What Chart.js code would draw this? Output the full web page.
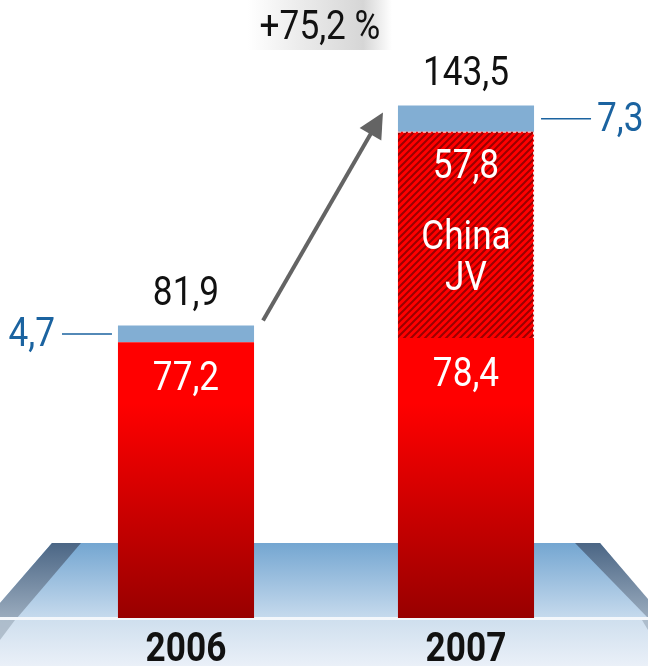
<!DOCTYPE html>
<html>
<head>
<meta charset="utf-8">
<script src="https://cdn.jsdelivr.net/npm/chart.js@4.4.1/dist/chart.umd.min.js"></script>
<style>
  html, body { margin: 0; padding: 0; background: #fff; }
  #wrap { width: 648px; height: 666px; position: relative; }
</style>
</head>
<body>
<div id="wrap"><canvas id="chart"></canvas></div>
<script>
// Data
const categories = ['2006', '2007'];
const baseValues = [77.2, 78.4];      // solid red part
const chinaJvValues = [0, 57.8];      // hatched part (China JV)
const otherValues = [4.7, 7.3];       // light blue top part
const totals = [81.9, 143.5];
const growthLabel = '+75,2 %';
const jvLabel = ['China', 'JV'];

const FONT = 'Roboto, "DejaVu Sans Condensed", sans-serif';
const SQUEEZE = 0.88;   // narrow the glyphs, the original uses a condensed face
const BLUE_TEXT = '#1b63a0';

function fmt(v) {
    return v.toFixed(1).replace('.', ',');
}

// condensed text: scale horizontally around the anchor
function text(ctx, str, x, y, align) {
    ctx.save();
    ctx.translate(x, y);
    ctx.scale(SQUEEZE, 1);
    ctx.textAlign = align || 'center';
    ctx.fillText(str, 0, 0);
    ctx.restore();
}

// Diagonal hatch for the China JV segment
function makeHatch() {
    const size = 7;
    const c = document.createElement('canvas');
    c.width = size; c.height = size;
    const g = c.getContext('2d');
    g.fillStyle = '#ff0000';
    g.fillRect(0, 0, size, size);
    g.strokeStyle = '#9a0000';
    g.lineWidth = 2;
    g.beginPath();
    g.moveTo(-1, size + 1); g.lineTo(size + 1, -1);
    g.moveTo(-1, 1); g.lineTo(1, -1);
    g.moveTo(size - 1, size + 1); g.lineTo(size + 1, size - 1);
    g.stroke();
    return g.createPattern(c, 'repeat');
}
const hatch = makeHatch();

function redGradient(context) {
    const chart = context.chart;
    const area = chart.chartArea;
    if (!area) return '#ff0000';
    const y = chart.scales.y;
    const grad = chart.ctx.createLinearGradient(0, y.getPixelForValue(60), 0, area.bottom);
    grad.addColorStop(0, '#ff0000');
    grad.addColorStop(1, '#980000');
    return grad;
}

// Floor / background decoration
const floorPlugin = {
    id: 'floor',
    beforeDatasetsDraw(chart) {
        const ctx = chart.ctx;
        const W = chart.width, H = chart.height;
        const bottom = chart.chartArea.bottom;
        const top = bottom - 75;
        ctx.save();

        // lower band
        let g = ctx.createLinearGradient(0, bottom + 2, 0, H);
        g.addColorStop(0, '#cfdfee');
        g.addColorStop(1, '#eaf0f8');
        ctx.fillStyle = g;
        ctx.fillRect(0, bottom + 2, W, H - bottom);

        // floor plate
        g = ctx.createLinearGradient(0, top, 0, bottom);
        g.addColorStop(0, '#74a6d1');
        g.addColorStop(1, '#c6daed');
        ctx.fillStyle = g;
        ctx.beginPath();
        ctx.moveTo(52, top); ctx.lineTo(W - 48, top);
        ctx.lineTo(W, top + 58); ctx.lineTo(W, bottom);
        ctx.lineTo(0, bottom); ctx.lineTo(0, top + 60);
        ctx.closePath();
        ctx.fill();

        // slanted side bands
        g = ctx.createLinearGradient(0, top, 0, bottom + 25);
        g.addColorStop(0, '#4b6685');
        g.addColorStop(1, '#b4c2d0');
        ctx.fillStyle = g;
        ctx.beginPath();
        ctx.moveTo(52, top); ctx.lineTo(81, top);
        ctx.lineTo(17, bottom); ctx.lineTo(0, bottom);
        ctx.lineTo(0, top + 60);
        ctx.closePath();
        ctx.fill();
        ctx.beginPath();
        ctx.moveTo(W - 48, top); ctx.lineTo(W - 73, top);
        ctx.lineTo(W, bottom); ctx.lineTo(W, top + 56);
        ctx.closePath();
        ctx.fill();

        // small continuation below the rim
        ctx.fillStyle = 'rgba(150,165,180,0.6)';
        ctx.beginPath();
        ctx.moveTo(0, bottom + 2); ctx.lineTo(15, bottom + 2); ctx.lineTo(0, bottom + 22);
        ctx.closePath();
        ctx.fill();
        ctx.beginPath();
        ctx.moveTo(W, bottom + 2); ctx.lineTo(W - 6, bottom + 2); ctx.lineTo(W, bottom + 12);
        ctx.closePath();
        ctx.fill();

        // white rim line
        ctx.fillStyle = '#f4f7fb';
        ctx.fillRect(0, bottom - 1, W, 3);
        ctx.restore();
    }
};

// Labels, arrow, growth box
const labelPlugin = {
    id: 'labels',
    afterDatasetsDraw(chart) {
        const ctx = chart.ctx;
        const x = chart.scales.x;
        const baseMeta = chart.getDatasetMeta(0);
        const jvMeta = chart.getDatasetMeta(1);
        const topMeta = chart.getDatasetMeta(2);
        ctx.save();
        ctx.textBaseline = 'middle';

        // dashed white outline of the JV segment
        const jv = jvMeta.data[1];
        ctx.strokeStyle = 'rgba(255,255,255,0.9)';
        ctx.lineWidth = 1;
        ctx.setLineDash([3, 2]);
        ctx.beginPath();
        ctx.moveTo(jv.x - jv.width / 2, jv.y + 0.5);
        ctx.lineTo(jv.x + jv.width / 2 - 0.5, jv.y + 0.5);
        ctx.lineTo(jv.x + jv.width / 2 - 0.5, jv.base);
        ctx.stroke();
        ctx.setLineDash([]);

        // totals above bars
        ctx.fillStyle = '#111';
        ctx.font = '40px ' + FONT;
        topMeta.data.forEach((bar, i) => {
            text(ctx, fmt(totals[i]), bar.x, bar.y - 31);
        });

        // values inside solid red parts
        ctx.fillStyle = '#fff';
        baseMeta.data.forEach((bar, i) => {
            text(ctx, fmt(baseValues[i]), bar.x, bar.y + 38);
        });
        // JV value and name
        text(ctx, fmt(chinaJvValues[1]), jv.x, jv.y + 36);
        text(ctx, jvLabel[0], jv.x, jv.y + 107);
        text(ctx, jvLabel[1], jv.x, jv.y + 148);

        // small blue parts with leader lines
        ctx.fillStyle = BLUE_TEXT;
        ctx.strokeStyle = BLUE_TEXT;
        ctx.lineWidth = 1.5;
        const b0 = topMeta.data[0], b1 = topMeta.data[1];
        const y0 = (b0.y + b0.base) / 2;
        const y1 = (b1.y + b1.base) / 2;
        ctx.beginPath();
        ctx.moveTo(b0.x - b0.width / 2 - 6, y0); ctx.lineTo(b0.x - b0.width / 2 - 56, y0);
        ctx.moveTo(b1.x + b1.width / 2 + 7, y1); ctx.lineTo(b1.x + b1.width / 2 + 57, y1);
        ctx.stroke();
        text(ctx, fmt(otherValues[0]), b0.x - b0.width / 2 - 63, y0 + 2, 'right');
        text(ctx, fmt(otherValues[1]), b1.x + b1.width / 2 + 63, y1 + 2, 'left');

        // growth arrow
        const tx = b0.x + b0.width / 2 + 9, ty = b0.y - 5;
        const hx = b1.x - b1.width / 2 - 15, hy = b1.y + 7;
        const dx = hx - tx, dy = hy - ty;
        const len = Math.hypot(dx, dy);
        const ux = dx / len, uy = dy / len;
        const headLen = 25, headHalf = 12.5;
        const bx = hx - ux * headLen, by = hy - uy * headLen;
        ctx.strokeStyle = '#646464';
        ctx.fillStyle = '#646464';
        ctx.lineWidth = 4;
        ctx.beginPath();
        ctx.moveTo(tx, ty); ctx.lineTo(bx + ux * 4, by + uy * 4);
        ctx.stroke();
        ctx.beginPath();
        ctx.moveTo(hx, hy);
        ctx.lineTo(bx - uy * headHalf, by + ux * headHalf);
        ctx.lineTo(bx + uy * headHalf, by - ux * headHalf);
        ctx.closePath();
        ctx.fill();

        // growth label box
        const cx = (b0.x + b1.x) / 2 - 6;
        const g = ctx.createLinearGradient(cx - 72, 0, cx + 72, 0);
        g.addColorStop(0, 'rgba(255,255,255,1)');
        g.addColorStop(0.35, '#ececec');
        g.addColorStop(0.8, '#d6d6d6');
        g.addColorStop(1, 'rgba(255,255,255,1)');
        ctx.fillStyle = g;
        ctx.fillRect(cx - 72, 0, 144, 50);
        ctx.fillStyle = '#111';
        ctx.font = '40px ' + FONT;
        text(ctx, growthLabel, cx, 29);

        // category labels
        ctx.font = 'bold 40px ' + FONT;
        categories.forEach((c, i) => {
            text(ctx, c, x.getPixelForValue(i), chart.chartArea.bottom + 33);
        });
        ctx.restore();
    }
};

new Chart(document.getElementById('chart'), {
    type: 'bar',
    data: {
        labels: categories,
        datasets: [
            { label: 'Base', data: baseValues, backgroundColor: redGradient },
            { label: 'China JV', data: chinaJvValues, backgroundColor: hatch },
            { label: 'Other', data: otherValues, backgroundColor: '#82aed3' }
        ]
    },
    options: {
        responsive: true,
        maintainAspectRatio: false,
        animation: false,
        layout: { padding: { top: 11, bottom: 48, left: 46, right: 42 } },
        datasets: {
            bar: { barPercentage: 1, categoryPercentage: 0.486, borderWidth: 0 }
        },
        plugins: { legend: { display: false }, tooltip: { enabled: false } },
        scales: {
            x: { display: false, stacked: true },
            y: { display: false, stacked: true, min: 0, max: 170 }
        }
    },
    plugins: [floorPlugin, labelPlugin]
});
</script>
</body>
</html>
